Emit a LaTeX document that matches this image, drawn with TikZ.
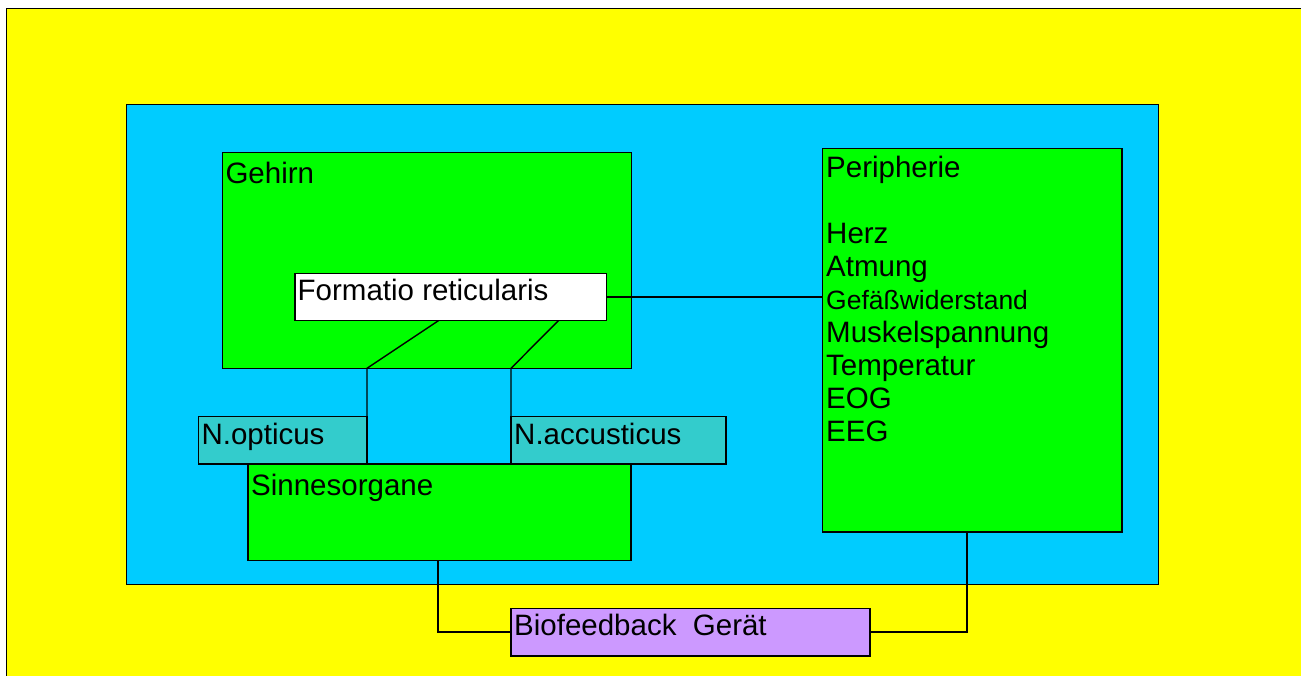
\documentclass[tikz,border=0pt]{standalone}
\usepackage{fontspec}
\setmainfont{Liberation Sans}
\usetikzlibrary{calc}
\definecolor{bgyellow}{HTML}{FFFF00}
\definecolor{skyblue}{HTML}{00CCFF}
\definecolor{brightgreen}{HTML}{00FF00}
\definecolor{tealbox}{HTML}{33CCCC}
\definecolor{lavender}{HTML}{CC99FF}
\begin{document}
\begin{tikzpicture}[x=1pt,y=-1pt,
  box/.style={draw=black, line width=1.4pt, anchor=north west, inner sep=0pt, outer sep=0pt},
  conn/.style={draw=black, line width=1.4pt},
  lbl/.style={anchor=base west, inner sep=0pt, font=\fontsize{29.5}{33.1}\selectfont}]
\useasboundingbox (0,0) rectangle (1301,675);
\clip (0,0) rectangle (1301,675);
\fill[white] (0,0) rectangle (1301,675);
% background
\node[box, fill=bgyellow, minimum width=1320pt, minimum height=690pt] (bg) at (6.5,8.5) {};
\node[box, fill=skyblue, minimum width=1032pt, minimum height=480pt] (blue) at (126.7,104.3) {};
% boxes
\node[box, fill=brightgreen, minimum width=409pt, minimum height=216pt] (gehirn) at (222.3,152.3) {};
\node[box, fill=white, minimum width=311.7pt, minimum height=47.4pt] (formatio) at (295,273.3) {};
\node[box, fill=tealbox, minimum width=168.7pt, minimum height=47.3pt] (opticus) at (198.3,416.7) {};
\node[box, fill=tealbox, minimum width=215pt, minimum height=47.3pt] (accusticus) at (511,416.7) {};
\node[box, fill=brightgreen, minimum width=383pt, minimum height=96.7pt] (sinnes) at (248,464) {};
\node[box, fill=brightgreen, minimum width=299.3pt, minimum height=383.3pt] (peri) at (822.7,148.7) {};
\node[box, fill=lavender, minimum width=359pt, minimum height=47.7pt] (bio) at (511,608.3) {};
% connectors
\draw[conn] (formatio.east) -- (formatio.east -| peri.west);
\draw[conn] ($(formatio.south west)!0.46!(formatio.south east)$) -- (opticus.north east |- gehirn.south) -- (opticus.south east);
\draw[conn] ($(formatio.south west)!0.845!(formatio.south east)$) -- (accusticus.north west |- gehirn.south) -- (accusticus.south west);
\draw[conn] ($(sinnes.south west)!0.496!(sinnes.south east)$) |- (bio.west);
\draw[conn] (bio.east) -| ($(peri.south west)!0.4815!(peri.south east)$);
% labels
\node[lbl] at ($(gehirn.north west)+(3,31)$) {Gehirn};
\node[lbl] at ($(formatio.north west)+(2.5,27)$) {Formatio reticularis};
\node[lbl] at ($(opticus.north west)+(3,27.5)$) {N.opticus};
\node[lbl] at ($(accusticus.north west)+(3,27.5)$) {N.accusticus};
\node[lbl] at ($(sinnes.north west)+(3,31)$) {Sinnesorgane};
\node[lbl] at ($(bio.north west)+(3,27)$) {Biofeedback\ \ Gerät};
\node[lbl, align=left] at ($(peri.north west)+(3.3,293.1)$) {Peripherie\\[33.1pt]Herz\\Atmung\\{\fontsize{26.5}{33.1}\selectfont Gefäßwiderstand}\\Muskelspannung\\Temperatur\\EOG\\EEG};
\end{tikzpicture}
\end{document}
